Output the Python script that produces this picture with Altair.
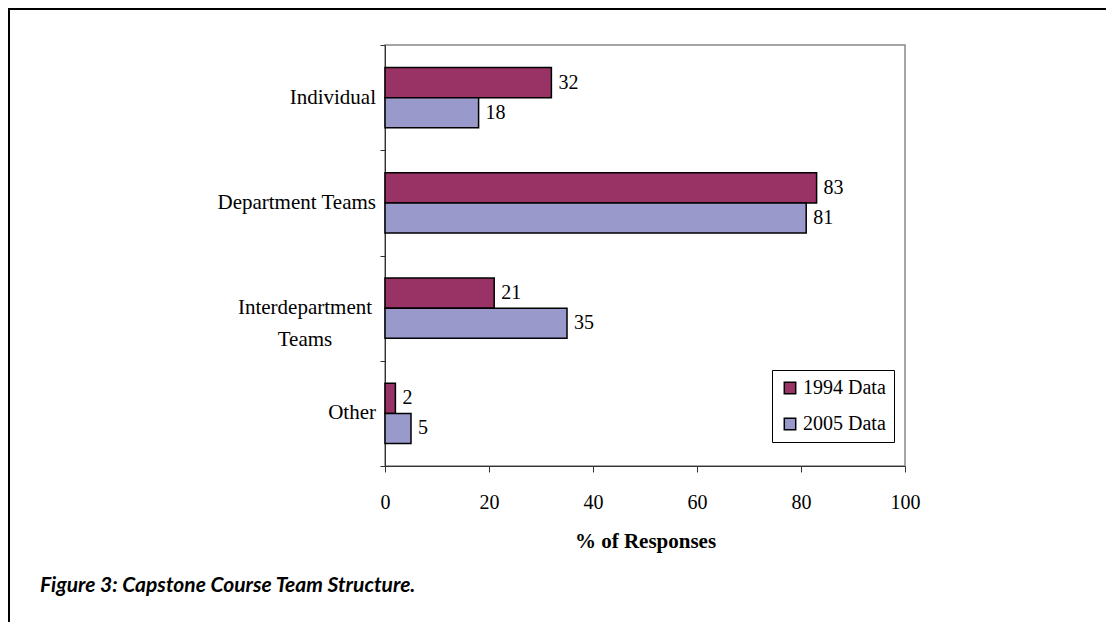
import altair as alt
import pandas as pd

categories = ["Individual", "Department Teams", "Interdepartment Teams", "Other"]
category_lines = [["Individual"], ["Department Teams"], ["Interdepartment", "Teams"], ["Other"]]
series = ["1994 Data", "2005 Data"]
values_1994 = [32, 83, 21, 2]
values_2005 = [18, 81, 35, 5]
x_ticks = [0, 20, 40, 60, 80, 100]
colors = ["#993366", "#9999CC"]
caption = "Figure 3: Capstone Course Team Structure."
x_title = "% of Responses"

rows = []
for c, a, b in zip(categories, values_1994, values_2005):
    rows.append({"cat": c, "series": series[0], "val": a})
    rows.append({"cat": c, "series": series[1], "val": b})
df = pd.DataFrame(rows)
cat_df = pd.DataFrame({"cat": categories, "lines": category_lines,
                       "multi": [len(l) > 1 for l in category_lines]})

W, H = 520, 421
PL, PT, PR, PB = 377, 37, 202, 156

y_scale = alt.Scale(domain=categories, paddingInner=0, paddingOuter=0)
y_enc = alt.Y("cat:N", sort=categories, title=None, scale=y_scale,
              axis=alt.Axis(tickBand="extent", labels=False,
                            tickSize=5, tickColor="#333", domainColor="#333"))
x_enc = alt.X("val:Q", title=x_title,
              scale=alt.Scale(domain=[0, 100], nice=False),
              axis=alt.Axis(values=x_ticks, grid=False, labelFlush=False,
                            labelFont="Liberation Serif",
                            labelFontSize=20, labelColor="black", labelPadding=20,
                            tickSize=6, tickColor="#333", domainColor="#333",
                            titleFont="Liberation Serif", titleFontSize=21,
                            titleFontWeight="bold", titleColor="black", titlePadding=18))
yoff = alt.YOffset("series:N", sort=series,
                   scale=alt.Scale(paddingInner=0, paddingOuter=0.75))

bars = alt.Chart(df).mark_bar(stroke="black", strokeWidth=1.5).encode(
    y=y_enc, x=x_enc, yOffset=yoff,
    color=alt.Color("series:N", sort=series,
                    scale=alt.Scale(domain=series, range=colors),
                    legend=alt.Legend(title=None, orient="none", legendX=387, legendY=325,
                                      symbolType="square", symbolSize=130,
                                      symbolStrokeColor="black", symbolStrokeWidth=1.5,
                                      labelFont="Liberation Serif", labelFontSize=20,
                                      labelColor="black", rowPadding=16,
                                      padding=8, strokeColor="black", fillColor="white",
                                      labelOffset=3)),
)

labels = alt.Chart(df).mark_text(align="left", baseline="middle", dx=7,
                                 font="Liberation Serif", fontSize=20, color="black").encode(
    y=alt.Y("cat:N", sort=categories, scale=y_scale), x="val:Q", yOffset=yoff, text="val:Q")

cat_right = alt.Chart(cat_df).transform_filter("!datum.multi").mark_text(
    align="right", baseline="middle", font="Liberation Serif", fontSize=21, color="black").encode(
    y=alt.Y("cat:N", sort=categories, scale=y_scale), x=alt.value(-9), text="cat:N")
cat_multi = alt.Chart(cat_df).transform_filter("datum.multi").mark_text(
    align="center", baseline="middle", font="Liberation Serif", fontSize=21, color="black",
    lineHeight=32).encode(
    y=alt.Y("cat:N", sort=categories, scale=y_scale), x=alt.value(-80), text="lines")

frame_df = pd.DataFrame({"k": [0]})
top_line = alt.Chart(frame_df).mark_rule(color="black", strokeWidth=2).encode(
    x=alt.value(-PL), x2=alt.value(W + PR - 1), y=alt.value(-PT + 1))
left_line = alt.Chart(frame_df).mark_rule(color="black", strokeWidth=2).encode(
    x=alt.value(-PL + 1), y=alt.value(-PT), y2=alt.value(H + PB))
cap = alt.Chart(frame_df).mark_text(align="left", baseline="alphabetic", font="Lato",
                                    fontSize=21, fontWeight="bold", fontStyle="italic",
                                    color="black").encode(
    x=alt.value(40 - 385), y=alt.value(592 - 45), text=alt.value(caption))

chart = alt.layer(bars, labels, cat_right, cat_multi, top_line, left_line, cap).properties(
    width=W, height=H,
    autosize=alt.AutoSizeParams(type="none"),
    padding={"left": PL, "top": PT, "right": PR, "bottom": PB},
).configure_view(stroke="#888", strokeWidth=1.5)

chart.save("out.html", embed_options={"renderer": "svg", "actions": False})
